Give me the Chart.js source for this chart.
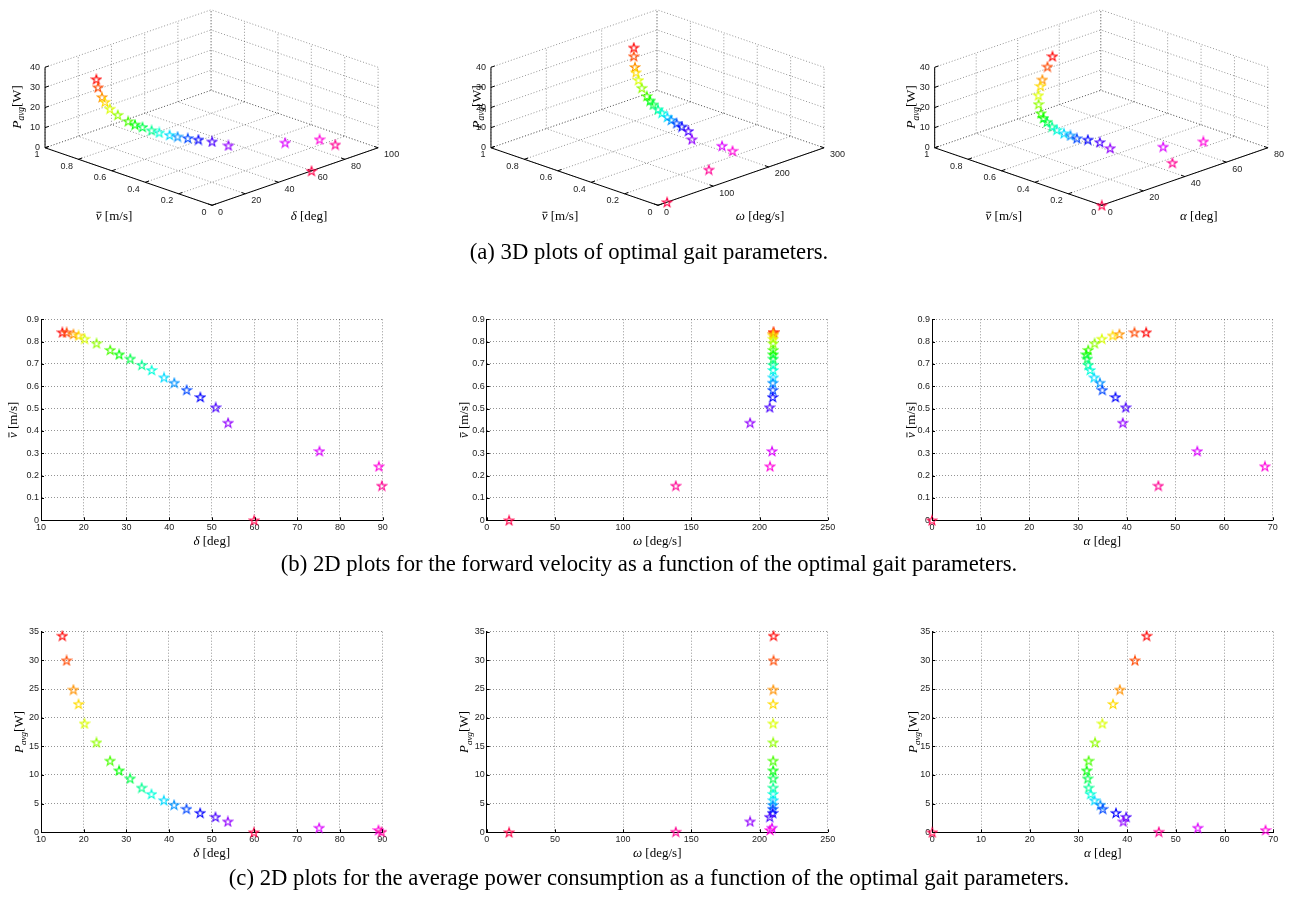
<!DOCTYPE html>
<html>
<head>
<meta charset="utf-8">
<script src="https://cdn.jsdelivr.net/npm/chart.js@4.4.1/dist/chart.umd.min.js"></script>
<style>
  html, body { margin: 0; padding: 0; background: #fff; }
  #fig { position: relative; width: 1298px; height: 898px; overflow: hidden; }
  #fig canvas { position: absolute; }
  .cap { position: absolute; left: 0; width: 1298px; text-align: center; line-height: 26px;
         font-family: "Liberation Serif", "Times New Roman", serif; font-size: 22.7px; color: #000; }
</style>
</head>
<body>
<div id="fig">
  <canvas id="a1"></canvas><canvas id="a2"></canvas><canvas id="a3"></canvas>
  <canvas id="b1"></canvas><canvas id="b2"></canvas><canvas id="b3"></canvas>
  <canvas id="c1"></canvas><canvas id="c2"></canvas><canvas id="c3"></canvas>
  <div class="cap" style="top:239px">(a) 3D plots of optimal gait parameters.</div>
  <div class="cap" style="top:551px">(b) 2D plots for the forward velocity as a function of the optimal gait parameters.</div>
  <div class="cap" style="top:865px">(c) 2D plots for the average power consumption as a function of the optimal gait parameters.</div>
</div>
<script>
// optimal gait points, ordered as in the colormap (red -> crimson)
const vBar  = [0.842, 0.842, 0.834, 0.828, 0.813, 0.793, 0.763, 0.743, 0.724, 0.696, 0.673,
               0.640, 0.616, 0.584, 0.552, 0.506, 0.437, 0.310, 0.242, 0.155, 0];
const delta = [15.0, 16.0, 17.6, 18.8, 20.2, 23.0, 26.2, 28.3, 30.9, 33.6, 35.9,
               38.8, 41.2, 44.1, 47.3, 50.9, 53.8, 75.2, 89.1, 89.8, 59.9];
const omega = [210.3, 210.3, 210.1, 210.0, 210.0, 210.0, 210.0, 210.0, 210.0, 210.0, 210.0,
               210.0, 209.8, 209.8, 209.7, 207.5, 193.1, 209.2, 207.7, 138.6, 16.4];
const alpha = [44.0, 41.6, 38.5, 37.1, 34.9, 33.4, 32.1, 31.7, 31.9, 32.1, 32.5,
               33.3, 34.5, 35.0, 37.7, 39.8, 39.2, 54.5, 68.4, 46.5, 0];
const pAvg  = [34.3, 30.0, 24.9, 22.4, 19.0, 15.7, 12.5, 10.8, 9.4, 7.8, 6.7,
               5.6, 4.8, 4.1, 3.4, 2.7, 1.9, 0.8, 0.4, 0.1, 0];

// tick labels
const vTicks3d = [0, 0.2, 0.4, 0.6, 0.8, 1];
const pTicks3d = [0, 10, 20, 30, 40];
const deltaTicks3d = [0, 20, 40, 60, 80, 100];
const omegaTicks3d = [0, 100, 200, 300];
const alphaTicks3d = [0, 20, 40, 60, 80];
const vTicks = [0, 0.1, 0.2, 0.3, 0.4, 0.5, 0.6, 0.7, 0.8, 0.9];
const pTicks = [0, 5, 10, 15, 20, 25, 30, 35];
const deltaTicks = [10, 20, 30, 40, 50, 60, 70, 80, 90];
const omegaTicks = [0, 50, 100, 150, 200, 250];
const alphaTicks = [0, 10, 20, 30, 40, 50, 60, 70];

// axis labels (math-ish pieces)
const lblV = [{ t: 'v', it: 1, bar: 1 }, { t: ' [m/s]' }];
const lblP = [{ t: 'P', it: 1 }, { t: 'avg', it: 1, sub: 1 }, { t: '[W]' }];
const lblDelta = [{ t: 'δ', it: 1 }, { t: ' [deg]' }];
const lblOmega = [{ t: 'ω', it: 1 }, { t: ' [deg/s]' }];
const lblAlpha = [{ t: 'α', it: 1 }, { t: ' [deg]' }];

const tickFont = { family: '"Liberation Sans", Arial, sans-serif', size: 9 };
const gridColor = 'rgba(0,0,0,0.42)';
const labelSize = 13;

// pentagram markers, hsv colormap
function starImage(color) {
  const c = document.createElement('canvas');
  c.width = 12; c.height = 12;
  const g = c.getContext('2d');
  g.beginPath();
  for (let k = 0; k < 10; k++) {
    const r = k % 2 ? 1.9 : 4.8;
    const a = -Math.PI / 2 + k * Math.PI / 5;
    const x = 6 + r * Math.cos(a), y = 6.5 + r * Math.sin(a);
    k ? g.lineTo(x, y) : g.moveTo(x, y);
  }
  g.closePath();
  g.strokeStyle = color; g.lineWidth = 1.15; g.stroke();
  return c;
}
const stars = vBar.map((_, i) => starImage(`hsl(${i * 360 / vBar.length},100%,50%)`));

function drawLabel(ctx, parts, x, y, size, rot) {
  ctx.save();
  ctx.translate(x, y);
  if (rot) ctx.rotate(rot);
  ctx.fillStyle = '#000';
  ctx.textAlign = 'left';
  ctx.textBaseline = 'alphabetic';
  const fontOf = p => `${p.it ? 'italic ' : ''}${p.sub ? size * 0.7 : size}px "Liberation Serif", serif`;
  let w = 0;
  parts.forEach(p => { ctx.font = fontOf(p); p.w = ctx.measureText(p.t).width; w += p.w; });
  let cx = -w / 2;
  const base = size * 0.35;
  parts.forEach(p => {
    ctx.font = fontOf(p);
    ctx.fillText(p.t, cx, base + (p.sub ? size * 0.25 : 0));
    if (p.bar) ctx.fillRect(cx + p.w * 0.12, base - size * 0.62, p.w * 0.85, 0.9);
    cx += p.w;
  });
  ctx.restore();
}

function place(cv, rect) {
  cv.style.left = rect[0] + 'px';
  cv.style.top = rect[1] + 'px';
  cv.width = rect[2];
  cv.height = rect[3];
}

// ---------- 2D plots ----------
function chart2D(id, rect, area, xs, ys, xTicks, yTicks, xLbl, yLbl, yOff) {
  const cv = document.getElementById(id);
  place(cv, rect);
  const yW = 30, xH = 16;
  const pad = {
    left: area[0] - rect[0] - yW, top: area[1] - rect[1],
    right: rect[0] + rect[2] - area[2], bottom: rect[1] + rect[3] - area[3] - xH
  };
  const decor = {
    id: 'decor2d',
    afterDraw(chart) {
      const { ctx, chartArea: a, scales: { x, y } } = chart;
      ctx.save();
      ctx.strokeStyle = '#000'; ctx.lineWidth = 1;
      ctx.beginPath();
      x.ticks.forEach(t => { const px = Math.round(x.getPixelForValue(t.value)) + 0.5; ctx.moveTo(px, a.bottom); ctx.lineTo(px, a.bottom - 3); });
      y.ticks.forEach(t => { const py = Math.round(y.getPixelForValue(t.value)) + 0.5; ctx.moveTo(a.left, py); ctx.lineTo(a.left + 3, py); });
      ctx.stroke();
      ctx.restore();
      drawLabel(ctx, xLbl, (a.left + a.right) / 2, a.bottom + 20, labelSize);
      drawLabel(ctx, yLbl, a.left + yOff, (a.top + a.bottom) / 2, labelSize, -Math.PI / 2);
    }
  };
  const axis = (ticks, fitKey, fitVal, pad) => ({
    type: 'linear', min: ticks[0], max: ticks[ticks.length - 1],
    afterBuildTicks: s => { s.ticks = ticks.map(value => ({ value })); },
    afterFit: s => { s[fitKey] = fitVal; },
    grid: { color: gridColor, lineWidth: 1, drawTicks: false },
    border: { color: '#000', width: 1, dash: [1, 2] },
    ticks: { font: tickFont, color: '#222', padding: pad, maxRotation: 0, autoSkip: false }
  });
  return new Chart(cv, {
    type: 'scatter',
    data: {
      datasets: [{
        data: xs.map((x, i) => ({ x, y: ys[i] })),
        pointStyle: c => stars[c.dataIndex],
        pointRadius: 4,
        clip: false
      }]
    },
    options: {
      responsive: false, animation: false, events: [],
      layout: { padding: pad },
      plugins: { legend: { display: false }, tooltip: { enabled: false } },
      scales: { x: axis(xTicks, 'height', xH, 2), y: axis(yTicks, 'width', yW, 2) }
    },
    plugins: [decor]
  });
}

// ---------- 3D plots (projected onto a pixel scatter) ----------
const DV = [-171, -60];   // screen vector for v: 0 -> 1
const DH = [170, -60];    // screen vector for second axis: 0 -> max
const DZ = -84;           // screen height for P: 0 -> 40

function chart3D(id, rect, F, hVals, hTicks, hLbl, pOff, hLblDx) {
  const cv = document.getElementById(id);
  place(cv, rect);
  const hMax = hTicks[hTicks.length - 1];
  const vMax = vTicks3d[vTicks3d.length - 1];
  const zMax = pTicks3d[pTicks3d.length - 1];
  const proj = (v, h, z) => ({
    x: F[0] + v / vMax * DV[0] + h / hMax * DH[0],
    y: F[1] + v / vMax * DV[1] + h / hMax * DH[1] + z / zMax * DZ
  });
  const box = {
    id: 'box3d',
    beforeDatasetsDraw(chart) {
      const { ctx, scales: { x, y } } = chart;
      const P = (v, h, z) => { const p = proj(v, h, z); return [x.getPixelForValue(p.x), y.getPixelForValue(p.y)]; };
      const line = (a, b) => { ctx.moveTo(a[0], a[1]); ctx.lineTo(b[0], b[1]); };
      ctx.save();
      // dotted grid on floor and back walls
      ctx.strokeStyle = gridColor; ctx.lineWidth = 1; ctx.setLineDash([1, 2]);
      ctx.beginPath();
      vTicks3d.forEach(v => { line(P(v, 0, 0), P(v, hMax, 0)); line(P(v, hMax, 0), P(v, hMax, zMax)); });
      hTicks.forEach(h => { line(P(0, h, 0), P(vMax, h, 0)); line(P(vMax, h, 0), P(vMax, h, zMax)); });
      pTicks3d.forEach(z => { line(P(vMax, 0, z), P(vMax, hMax, z)); line(P(0, hMax, z), P(vMax, hMax, z)); });
      ctx.stroke();
      // solid axes
      ctx.setLineDash([]); ctx.strokeStyle = '#000';
      ctx.beginPath();
      line(P(vMax, 0, 0), P(vMax, 0, zMax));
      line(P(0, 0, 0), P(vMax, 0, 0));
      line(P(0, 0, 0), P(0, hMax, 0));
      // tick marks
      const hs = 4 / Math.hypot(DH[0], DH[1]), vs = 4 / Math.hypot(DV[0], DV[1]);
      vTicks3d.forEach(v => { const a = P(v, 0, 0); line(a, [a[0] + DH[0] * hs, a[1] + DH[1] * hs]); });
      hTicks.forEach(h => { const a = P(0, h, 0); line(a, [a[0] + DV[0] * vs, a[1] + DV[1] * vs]); });
      pTicks3d.forEach(z => { const a = P(vMax, 0, z); line(a, [a[0] + DH[0] * hs, a[1] + DH[1] * hs]); });
      ctx.stroke();
      // tick labels
      ctx.fillStyle = '#222';
      ctx.font = `${tickFont.size}px ${tickFont.family}`;
      ctx.textBaseline = 'middle';
      ctx.textAlign = 'right';
      pTicks3d.forEach(z => { const a = P(vMax, 0, z); ctx.fillText(String(z), a[0] - 5, a[1]); });
      vTicks3d.forEach(v => { const a = P(v, 0, 0); ctx.fillText(String(v), a[0] - 5.5, a[1] + 7); });
      ctx.textAlign = 'left';
      hTicks.forEach(h => { const a = P(0, h, 0); ctx.fillText(String(h), a[0] + 6, a[1] + 7); });
      ctx.restore();
      // axis titles
      const f = P(0, 0, 0), zAx = P(vMax, 0, 0);
      drawLabel(ctx, lblV, f[0] - 98, f[1] + 10, labelSize);
      drawLabel(ctx, hLbl, f[0] + hLblDx, f[1] + 10, labelSize);
      drawLabel(ctx, lblP, zAx[0] + pOff, 107, 13.5, -Math.PI / 2);
    }
  };
  return new Chart(cv, {
    type: 'scatter',
    data: {
      datasets: [{
        data: vBar.map((v, i) => proj(v, hVals[i], pAvg[i])),
        pointStyle: c => stars[c.dataIndex],
        pointRadius: 4,
        clip: false
      }]
    },
    options: {
      responsive: false, animation: false, events: [],
      layout: { padding: 0 },
      plugins: { legend: { display: false }, tooltip: { enabled: false } },
      scales: {
        x: { type: 'linear', display: false, min: 0, max: rect[2] },
        y: { type: 'linear', display: false, min: 0, max: rect[3], reverse: true }
      }
    },
    plugins: [box]
  });
}

chart3D('a1', [0, 0, 430, 240], [212, 209], delta, deltaTicks3d, lblDelta, -29, 97);
chart3D('a2', [430, 0, 430, 240], [228.3, 209], omega, omegaTicks3d, lblOmega, -15, 102);
chart3D('a3', [860, 0, 438, 240], [242.3, 209], alpha, alphaTicks3d, lblAlpha, -24, 97);

chart2D('b1', [0, 295, 430, 260], [41, 319.3, 382.7, 520.3], delta, vBar, deltaTicks, vTicks, lblDelta, lblV, -29);
chart2D('b2', [430, 295, 430, 260], [486.7, 319.3, 827.7, 520.3], omega, vBar, omegaTicks, vTicks, lblOmega, lblV, -23);
chart2D('b3', [860, 295, 438, 260], [932, 319.3, 1272.7, 520.3], alpha, vBar, alphaTicks, vTicks, lblAlpha, lblV, -22);

chart2D('c1', [0, 610, 430, 260], [41, 631.7, 382.3, 832.3], delta, pAvg, deltaTicks, pTicks, lblDelta, lblP, -23);
chart2D('c2', [430, 610, 430, 260], [486.7, 631.7, 827.7, 832.3], omega, pAvg, omegaTicks, pTicks, lblOmega, lblP, -23);
chart2D('c3', [860, 610, 438, 260], [932.3, 631.7, 1273.3, 832.3], alpha, pAvg, alphaTicks, pTicks, lblAlpha, lblP, -20);
</script>
</body>
</html>
